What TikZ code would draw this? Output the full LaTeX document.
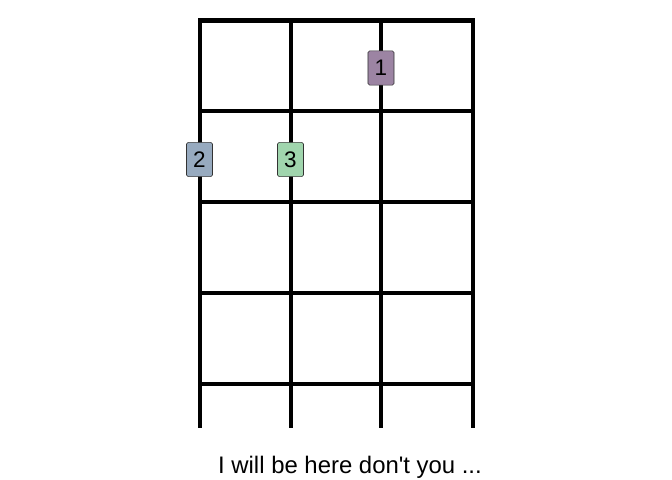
\documentclass[tikz,border=0pt]{standalone}
\usepackage{fontspec}
\setmainfont{Liberation Sans}
\definecolor{fingerone}{HTML}{9C84A3}
\definecolor{fingertwo}{HTML}{97AABF}
\definecolor{fingerthree}{HTML}{A0D5AD}

\begin{document}
\begin{tikzpicture}[
    x=0.025cm, y=-0.025cm,
    every node/.style={font=\fontsize{16}{18}\selectfont},
    % Stijl voor de snaren en frets
    fret/.style={line width=0.1cm, black},
    % Stijl voor de vingerposities
    finger/.style={rectangle, rounded corners=1.2pt, draw=black!80, thin,
                   minimum width=0.65cm, minimum height=0.86cm, inner sep=0pt},
    caption/.style={font=\fontsize{17}{20}\selectfont}
]
\useasboundingbox (0,0) rectangle (672,480);

% --- Snaren ---
\foreach \x in {199.5,290.5,381,472.5}
    \draw[fret] (\x,20.5) -- (\x,428);

% --- Frets ---
\draw[fret, line cap=rect] (199.5,20.5) -- (472.5,20.5);
\foreach \y in {110.5,202,293,384}
    \draw[fret] (199.5,\y) -- (472.5,\y);

% --- Vingers ---
\node[finger, fill=fingerone] (f1) at (381,68) {1};
\node[finger, fill=fingertwo] (f2) at (199.5,159.5) {2};
\node[finger, fill=fingerthree] (f3) at (290.5,159.5) {3};

% --- Onderschrift ---
\node[caption] (cap) at (350,467) {I will be here don\textquotesingle t you ...};

\end{tikzpicture}
\end{document}
